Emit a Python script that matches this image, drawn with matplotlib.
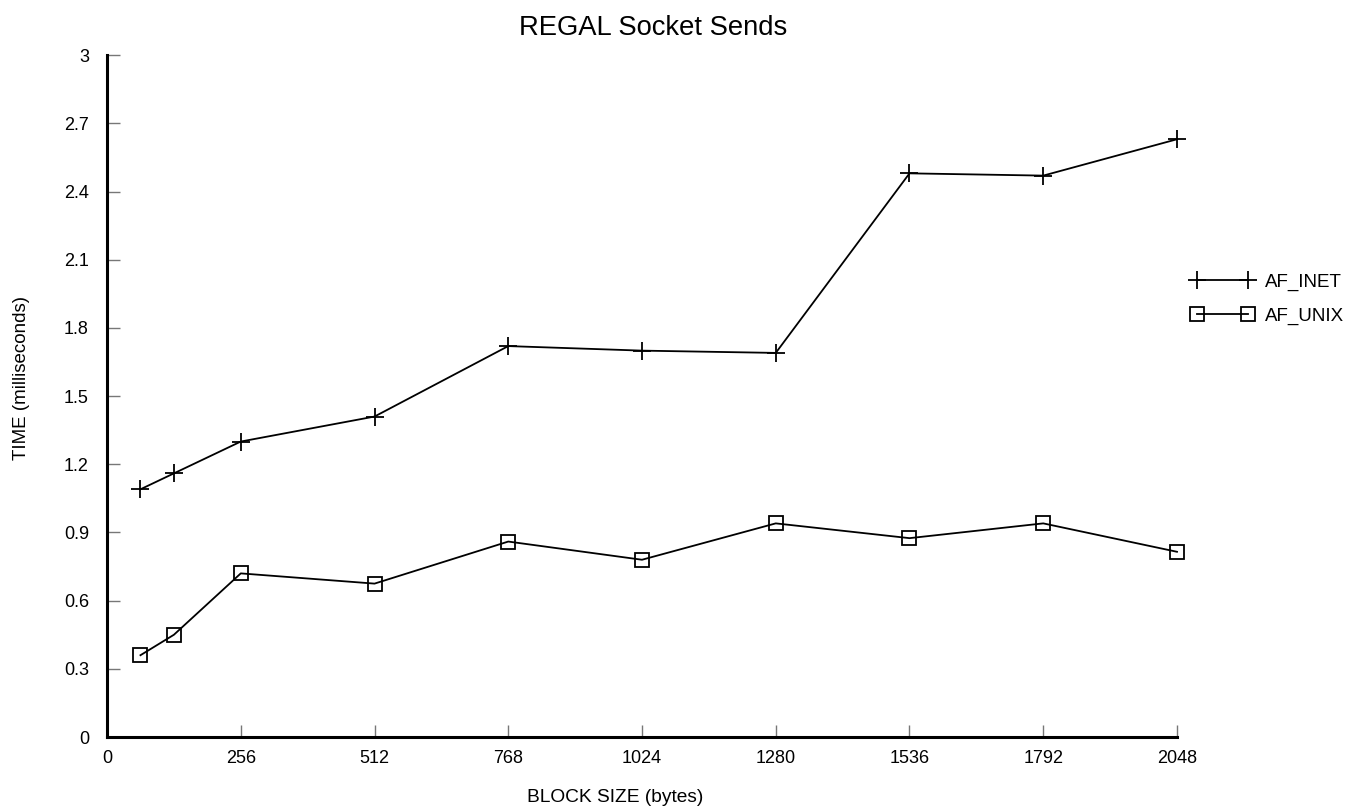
import matplotlib
matplotlib.use("Agg")
import matplotlib.pyplot as plt
from matplotlib.ticker import FuncFormatter

plt.rcParams['font.family'] = ['Liberation Sans', 'DejaVu Sans']

# -----------------------------------------------------------------------------
# Data
block_sizes = [64, 128, 256, 512, 768, 1024, 1280, 1536, 1792, 2048]
af_inet = [1.09, 1.16, 1.30, 1.41, 1.72, 1.70, 1.69, 2.48, 2.47, 2.63]
af_unix = [0.36, 0.45, 0.72, 0.675, 0.86, 0.78, 0.94, 0.875, 0.94, 0.815]

x_ticks = [0, 256, 512, 768, 1024, 1280, 1536, 1792, 2048]
y_ticks = [0, 0.3, 0.6, 0.9, 1.2, 1.5, 1.8, 2.1, 2.4, 2.7, 3]

# -----------------------------------------------------------------------------
fig = plt.figure(figsize=(13.67, 8.11), dpi=100)
ax = fig.add_axes([0.0783, 0.0912, 0.7827, 0.8408])

ax.plot(block_sizes, af_inet, color='black', linewidth=1.3, marker='+',
        markersize=13, markeredgewidth=1.3, label='AF_INET', clip_on=False)
ax.plot(block_sizes, af_unix, color='black', linewidth=1.3, marker='s',
        markersize=10, markerfacecolor='none', markeredgewidth=1.3,
        label='AF_UNIX', clip_on=False)

ax.set_xlim(0, 2048)
ax.set_ylim(0, 3)
ax.set_xticks(x_ticks)
ax.set_yticks(y_ticks)
ax.yaxis.set_major_formatter(FuncFormatter(lambda v, p: '%g' % v))

for side in ['top', 'right']:
    ax.spines[side].set_visible(False)
for side in ['left', 'bottom']:
    ax.spines[side].set_linewidth(2.2)
    ax.spines[side].set_color('black')

ax.tick_params(direction='in', length=9, width=1, color='#777777',
               labelsize=13)
ax.tick_params(axis='y', pad=13)
ax.tick_params(axis='x', pad=9)

# axis labels and title placed where the reference has them
fig.text(615 / 1367, 1 - 802 / 811, 'BLOCK SIZE (bytes)', ha='center',
         va='baseline', fontsize=13.8)
fig.text(22 / 1367, 1 - 378 / 811, 'TIME (milliseconds)', ha='center',
         va='center', rotation=90, fontsize=13.5)
fig.text(653 / 1367, 1 - 35 / 811, 'REGAL Socket Sends', ha='center',
         va='baseline', fontsize=19.7)

ax.legend(loc='center left', bbox_to_anchor=(0.998, 0.642), frameon=False,
          fontsize=13.5, numpoints=2, handlelength=3.3, handletextpad=0.6,
          labelspacing=0.86)

fig.savefig('out.png', dpi=100)
